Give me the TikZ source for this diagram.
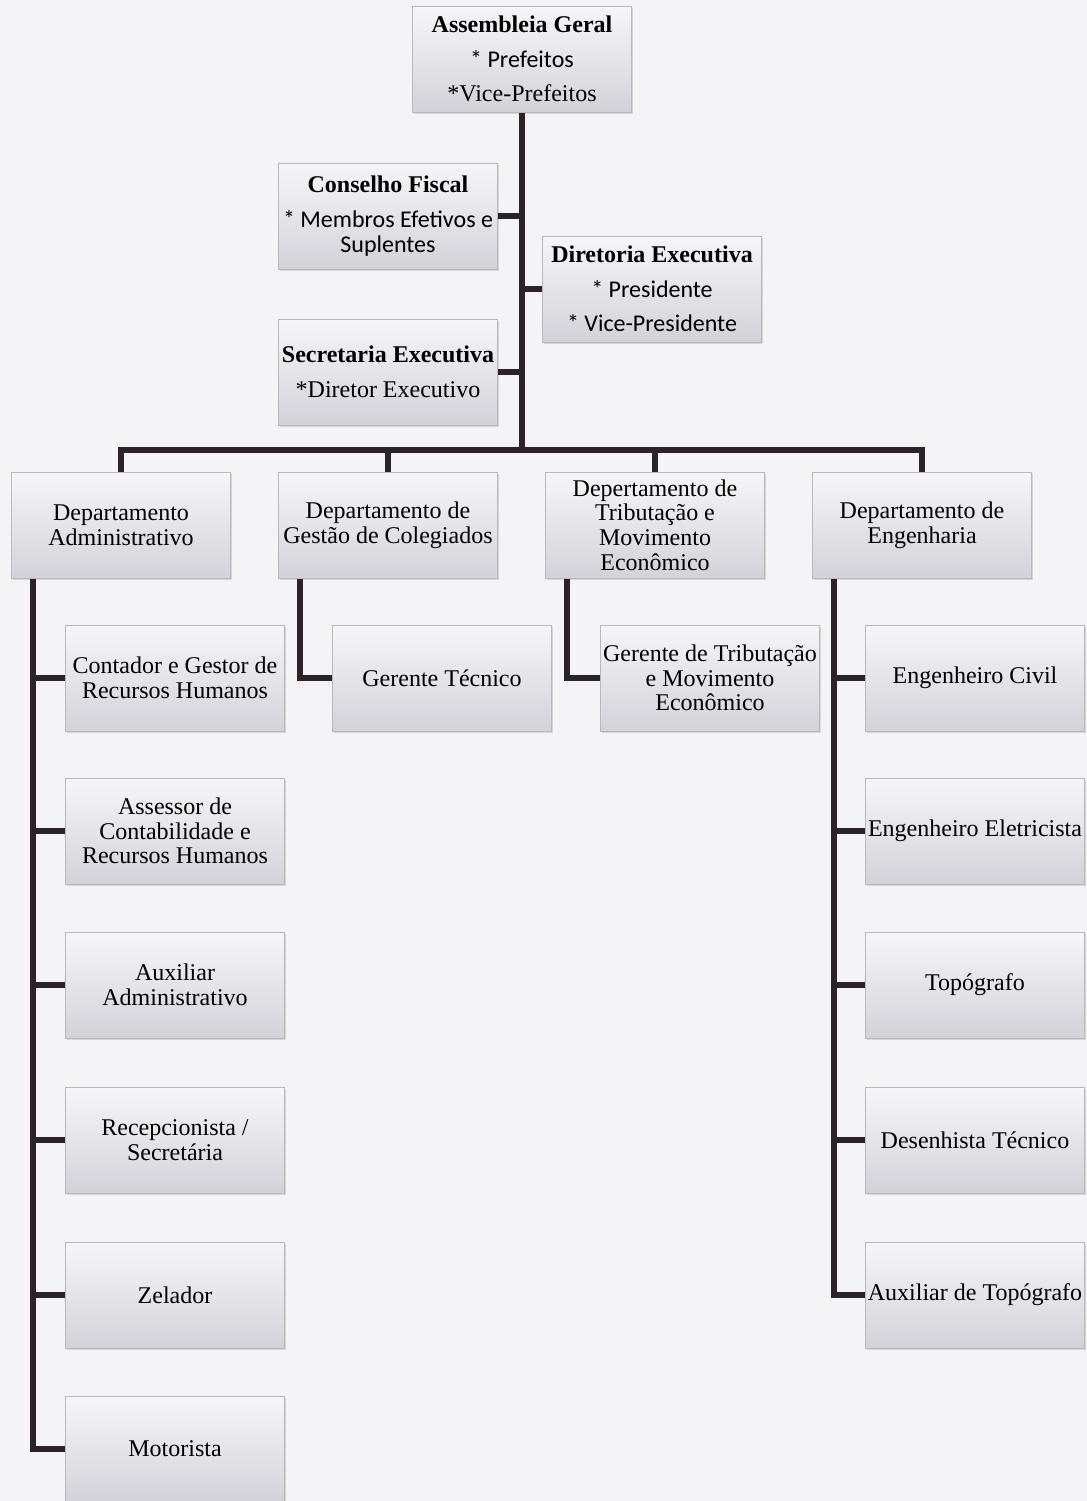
\documentclass[tikz,border=0pt]{standalone}
\usepackage{fontspec}
\setmainfont{Liberation Serif}
\newfontfamily\calibri{Carlito}
\usetikzlibrary{shadows}
\definecolor{linhaorg}{HTML}{2B2329}
\definecolor{caixatopo}{HTML}{F6F6FA}
\definecolor{caixabase}{HTML}{D2D2D8}
\definecolor{fundo}{HTML}{F4F4F7}

\begin{document}
\begin{tikzpicture}[x=0.5pt,y=-0.5pt,
	caixa/.style={draw=gray!55,line width=0.5pt,top color=caixatopo,bottom color=caixabase,
		minimum width=109.5pt,minimum height=53pt,inner sep=1pt,align=center,
		font=\fontsize{12}{12.3}\selectfont,
		drop shadow={shadow xshift=0.6pt,shadow yshift=-0.9pt,opacity=0.25}},
	liga/.style={draw=linhaorg,line width=2.6pt}]
	\useasboundingbox (0,0) rectangle (1087,1501);
	\fill[fundo] (0,0) rectangle (1087,1501);

	\node[caixa] (assembleia) at (522,59) {\textbf{Assembleia Geral}\\[5pt]{\calibri * Prefeitos}\\[5pt]*Vice-Prefeitos};
	\node[caixa] (conselho) at (388,216) {\textbf{Conselho Fiscal}\\[5pt]{\calibri * Membros Efetivos e}\\{\calibri Suplentes}};
	\node[caixa] (diretoria) at (652,289) {\textbf{Diretoria Executiva}\\[5pt]{\calibri * Presidente}\\[5pt]{\calibri * Vice-Presidente}};
	\node[caixa] (secretaria) at (388,372) {\textbf{Secretaria Executiva}\\[5pt]*Diretor Executivo};

	\node[caixa] (dadm) at (121,525) {Departamento\\Administrativo};
	\node[caixa] (dges) at (388,525) {Departamento de\\Gestão de Colegiados};
	\node[caixa] (dtrib) at (655,525) {Depertamento de\\Tributação e\\Movimento\\Econômico};
	\node[caixa] (deng) at (922,525) {Departamento de\\Engenharia};

	\node[caixa] (contador) at (175,678) {Contador e Gestor de\\Recursos Humanos};
	\node[caixa] (assessor) at (175,831) {Assessor de\\Contabilidade e\\Recursos Humanos};
	\node[caixa] (auxiliar) at (175,985) {Auxiliar\\Administrativo};
	\node[caixa] (recepcao) at (175,1140) {Recepcionista /\\Secretária};
	\node[caixa] (zelador) at (175,1295) {Zelador};
	\node[caixa] (motorista) at (175,1449) {Motorista};

	\node[caixa] (gertec) at (442,678) {Gerente Técnico};
	\node[caixa] (gertrib) at (710,678) {Gerente de Tributação\\e Movimento\\Econômico};

	\node[caixa] (engcivil) at (975,678) {Engenheiro Civil};
	\node[caixa] (engelet) at (975,831) {Engenheiro Eletricista};
	\node[caixa] (topografo) at (975,985) {Topógrafo};
	\node[caixa] (desenhista) at (975,1140) {Desenhista Técnico};
	\node[caixa] (auxtopo) at (975,1295) {Auxiliar de Topógrafo};

	\coordinate (barra) at (522,450);
	\draw[liga] (assembleia.south) -- (barra);
	\draw[liga] (conselho.east) -- (conselho.east -| barra);
	\draw[liga] (diretoria.west) -- (diretoria.west -| barra);
	\draw[liga] (secretaria.east) -- (secretaria.east -| barra);
	\draw[liga] (dadm.north) |- (barra) -| (deng.north);
	\draw[liga] (dges.north) -- (dges.north |- barra);
	\draw[liga] (dtrib.north) -- (dtrib.north |- barra);

	\coordinate (espadm) at ([xshift=11pt]dadm.south west);
	\draw[liga] (espadm) |- (motorista.west);
	\foreach \n in {contador,assessor,auxiliar,recepcao,zelador}
		\draw[liga] (\n.west) -- (\n.west -| espadm);

	\draw[liga] ([xshift=11pt]dges.south west) |- (gertec.west);
	\draw[liga] ([xshift=11pt]dtrib.south west) |- (gertrib.west);

	\coordinate (espeng) at ([xshift=11pt]deng.south west);
	\draw[liga] (espeng) |- (auxtopo.west);
	\foreach \n in {engcivil,engelet,topografo,desenhista}
		\draw[liga] (\n.west) -- (\n.west -| espeng);
\end{tikzpicture}
\end{document}
